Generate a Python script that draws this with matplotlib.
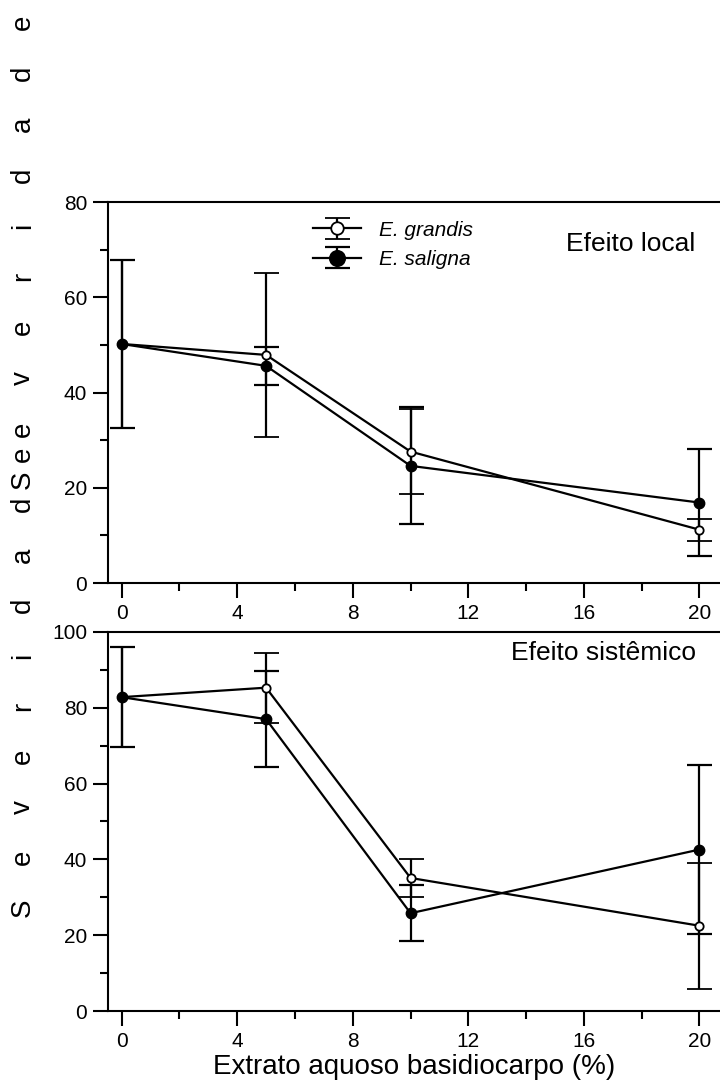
import matplotlib
matplotlib.use("Agg")
import matplotlib.pyplot as plt
from matplotlib.ticker import MultipleLocator

plt.rcParams["font.family"] = ["Liberation Sans", "DejaVu Sans"]

# ============================================
# DATOS
# ============================================
dose = [0, 5, 10, 20]

# Efeito local
local_grandis = [50.2, 47.9, 27.6, 11.2]
local_grandis_err = [17.6, 17.2, 8.9, 2.3]
local_saligna = [50.2, 45.6, 24.6, 16.9]
local_saligna_err = [17.6, 4.0, 12.3, 11.3]

# Efeito sistemico
sist_grandis = [82.8, 85.3, 35.1, 22.5]
sist_grandis_err = [13.2, 9.2, 5.0, 16.6]
sist_saligna = [82.8, 77.0, 25.8, 42.6]
sist_saligna_err = [13.2, 12.6, 7.4, 22.4]

x_ticks = [0, 4, 8, 12, 16, 20]
ylabel = "Severidade"
xlabel = "Extrato aquoso basidiocarpo (%)"

fig = plt.figure(figsize=(7.2, 10.89), dpi=100)
ax_top = fig.add_axes([0.15, 0.4646, 0.85, 0.3499])
ax_bot = fig.add_axes([0.15, 0.0716, 0.85, 0.3481])

err_kw = dict(color="black", lw=1.6, elinewidth=1.6, capsize=9, capthick=1.6)


def draw_panel(ax, g, g_err, s, s_err, ymax, titulo, ty):
    hg = ax.errorbar(dose, g, yerr=g_err, marker="o", ms=6, mfc="white",
                     mec="black", mew=1.3, label="E. grandis", **err_kw)
    hs = ax.errorbar(dose, s, yerr=s_err, marker="o", ms=7.5, mfc="black",
                     mec="black", label="E. saligna", **err_kw)

    ax.set_xlim(-0.47, 20.71)
    ax.set_ylim(0, ymax)
    ax.set_xticks(x_ticks)
    ax.xaxis.set_minor_locator(MultipleLocator(2))
    ax.yaxis.set_major_locator(MultipleLocator(20))
    ax.yaxis.set_minor_locator(MultipleLocator(10))
    ax.tick_params(which="major", direction="out", length=11, width=1.5,
                   labelsize=15, pad=4)
    ax.tick_params(which="minor", direction="out", length=6, width=1.5)
    ax.spines["right"].set_visible(False)
    for sp in ["left", "top", "bottom"]:
        ax.spines[sp].set_linewidth(1.5)

    ax.text(0.96, ty, titulo, transform=ax.transAxes,
            ha="right", va="center", fontsize=19)
    return hg, hs


hg, hs = draw_panel(ax_top, local_grandis, local_grandis_err,
                    local_saligna, local_saligna_err, 80, "Efeito local", 0.89)
draw_panel(ax_bot, sist_grandis, sist_grandis_err,
           sist_saligna, sist_saligna_err, 100, "Efeito sistêmico", 0.945)

leg = ax_top.legend(handles=[hg, hs], loc="upper left",
                    bbox_to_anchor=(0.305, 1.0), frameon=False,
                    fontsize=15, handlelength=2.3, handletextpad=0.85,
                    labelspacing=0.5, markerscale=1.5)
for t in leg.get_texts():
    t.set_style("italic")

ax_bot.set_xlabel(xlabel, fontsize=20, labelpad=2)

# Rotulo Y repetido con letras espaciadas (como en el original)
for y0, pitch in [(908, 50.4), (480, 50.8)]:
    for i, ch in enumerate(ylabel):
        ypix = y0 - i * pitch
        fig.text(23 / 720, 1 - ypix / 1089, ch, rotation=90,
                 ha="center", va="center", fontsize=20)

fig.savefig("out.png", dpi=100)
plt.close(fig)
